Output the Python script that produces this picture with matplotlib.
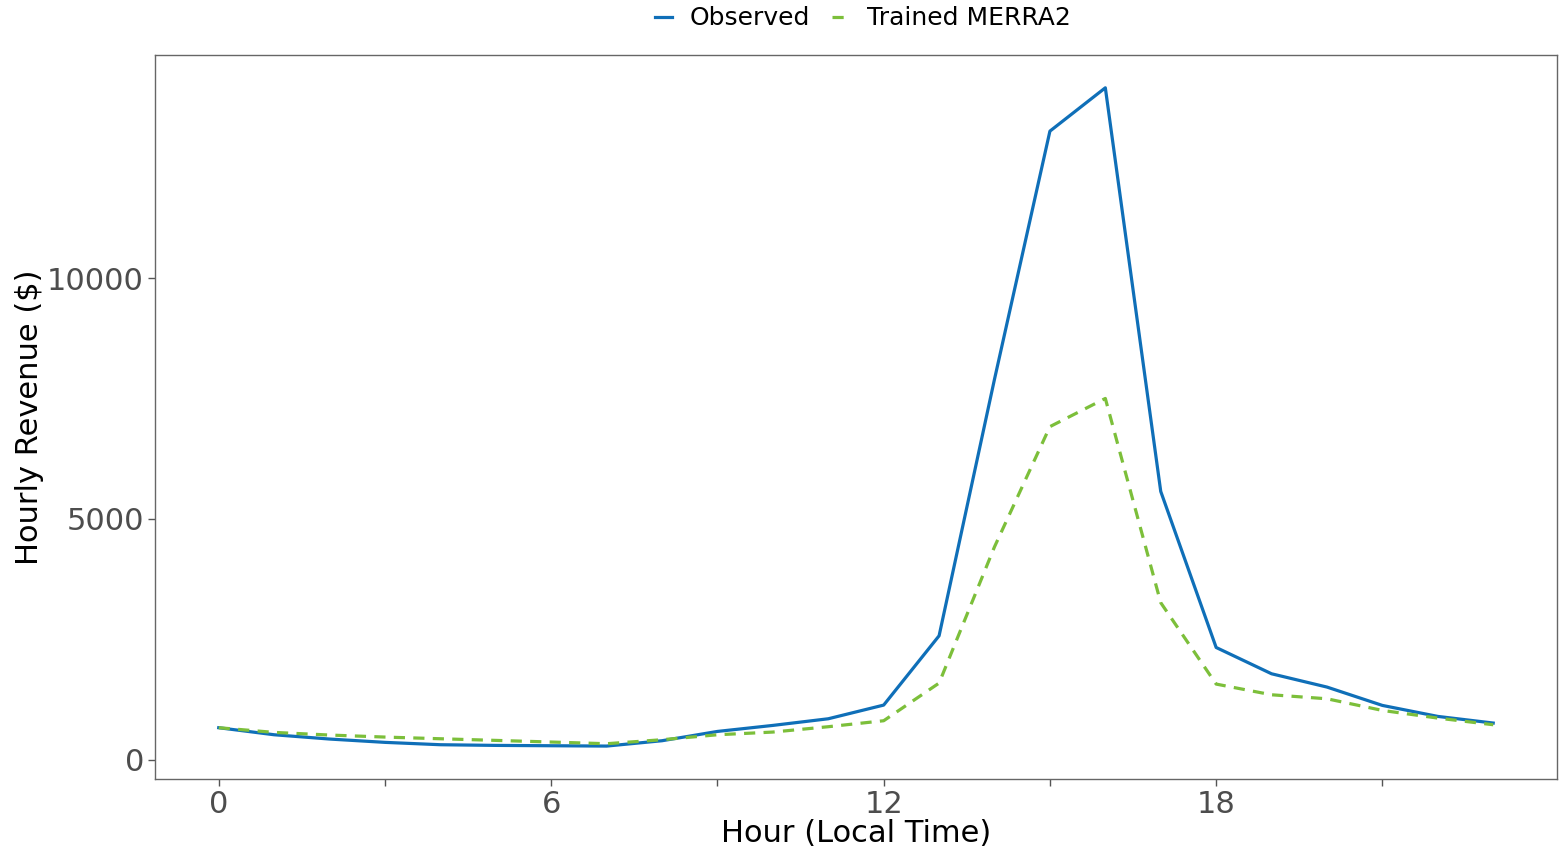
import matplotlib
matplotlib.use("Agg")
import matplotlib.pyplot as plt
from matplotlib.ticker import FixedLocator

hours = list(range(24))
observed = [664, 518, 429, 360, 311, 297, 290, 283, 394, 587, 712, 850,
            1134, 2573, 7900, 13050, 13950, 5570, 2330, 1784, 1508, 1127, 899, 761]
trained = [664, 567, 512, 470, 435, 401, 367, 332, 415, 518, 574, 685,
           809, 1591, 4420, 6915, 7500, 3260, 1570, 1348, 1265, 1023, 864, 726]

major_ticks = [0, 6, 12, 18]
minor_ticks = [3, 9, 15, 21]
y_ticks = [0, 5000, 10000]

fig = plt.figure(figsize=(15.61, 8.48), dpi=100)
ax = fig.add_axes([0.0993, 0.0814, 0.8981, 0.8537])

ax.plot(hours, observed, color="#0f6fb8", lw=2.3, label="Observed")
ax.plot(hours, trained, color="#7cbf3a", lw=2.3, ls=(0, (3.5, 2.6)), label="Trained MERRA2")

ax.set_xlim(-1.15, 24.15)
ax.set_ylim(-400, 14630)
ax.xaxis.set_major_locator(FixedLocator(major_ticks))
ax.xaxis.set_minor_locator(FixedLocator(minor_ticks))
ax.set_yticks(y_ticks)

ax.tick_params(axis="both", which="major", labelsize=22, labelcolor="#4d4d4d",
               color="#555555", length=5, width=1, pad=3)
ax.tick_params(axis="x", which="minor", color="#555555", length=5, width=1)
for s in ax.spines.values():
    s.set_color("#666666")
    s.set_linewidth(1.0)

ax.set_xlabel("Hour (Local Time)", fontsize=22, labelpad=0)
ax.set_ylabel("Hourly Revenue ($)", fontsize=22, labelpad=2)

leg = ax.legend(loc="lower center", bbox_to_anchor=(0.505, 1.01), ncol=2,
                frameon=False, fontsize=18, handlelength=0.7, columnspacing=0.9,
                handletextpad=0.7, borderpad=0.2)

fig.savefig("out.png", dpi=100)
